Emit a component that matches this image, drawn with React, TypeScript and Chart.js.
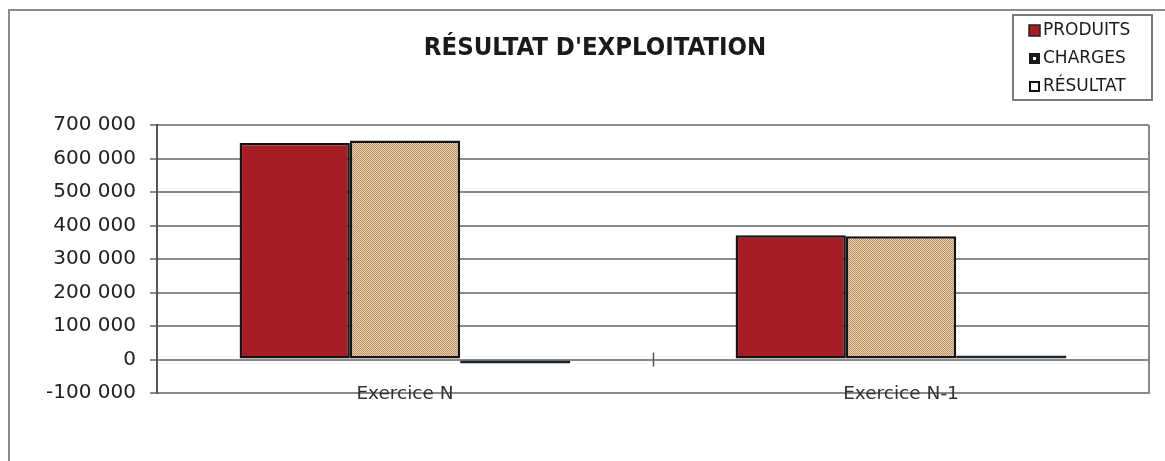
import React, { useEffect, useRef } from 'react';
import { Chart, registerables } from 'chart.js';

Chart.register(...registerables);

const categories = ['Exercice N', 'Exercice N-1'];
const seriesNames = ['PRODUITS', 'CHARGES', 'RÉSULTAT'];
const produits = [646000, 371000];
const charges = [654000, 368000];
const resultat = [-8000, 3000];
const yMin = -100000;
const yMax = 700000;
const yStep = 100000;
const chartTitle = "RÉSULTAT D'EXPLOITATION";

const fmt = (v: number) => String(v).replace(/\B(?=(\d{3})+(?!\d))/g, ' ');

function makePattern(): CanvasPattern | string {
  const c = document.createElement('canvas');
  c.width = 2;
  c.height = 2;
  const g = c.getContext('2d');
  if (!g) return '#d1ae8a';
  g.fillStyle = '#ecd6ba';
  g.fillRect(0, 0, 2, 2);
  g.fillStyle = '#b98b5c';
  g.fillRect(0, 0, 1, 1);
  g.fillRect(1, 1, 1, 1);
  return g.createPattern(c, 'repeat') || '#d1ae8a';
}

const decor = {
  id: 'decor',
  beforeDraw(chart: any) {
    const ctx = chart.ctx;
    ctx.save();
    ctx.fillStyle = '#ffffff';
    ctx.fillRect(0, 0, chart.width, chart.height);
    ctx.strokeStyle = '#8a8a8a';
    ctx.lineWidth = 2;
    ctx.beginPath();
    ctx.moveTo(9, chart.height);
    ctx.lineTo(9, 10);
    ctx.lineTo(chart.width, 10);
    ctx.stroke();
    ctx.restore();
  },
  afterDraw(chart: any) {
    const ctx = chart.ctx;
    const xs = chart.scales.x;
    const ys = chart.scales.y;
    ctx.save();
    // middle category tick crossing the zero line
    const xm = (xs.getPixelForValue(0) + xs.getPixelForValue(1)) / 2;
    const y0 = ys.getPixelForValue(0);
    ctx.strokeStyle = '#555';
    ctx.lineWidth = 1.5;
    ctx.beginPath();
    ctx.moveTo(Math.round(xm) + 0.5, y0 - 7);
    ctx.lineTo(Math.round(xm) + 0.5, y0 + 7);
    ctx.stroke();

    // title
    ctx.fillStyle = '#1a1a1a';
    ctx.font = 'bold 25.5px "DejaVu Sans Condensed", "DejaVu Sans", sans-serif';
    ctx.textAlign = 'center';
    ctx.textBaseline = 'middle';
    ctx.fillText(chartTitle, 595, 48);

    // legend
    const bx = 1013, by = 15, bw = 139, bh = 85;
    ctx.fillStyle = '#fff';
    ctx.fillRect(bx, by, bw, bh);
    ctx.strokeStyle = '#7a7a7a';
    ctx.lineWidth = 2;
    ctx.strokeRect(bx, by, bw, bh);
    ctx.font = '17px "DejaVu Sans", sans-serif';
    ctx.textAlign = 'left';
    ctx.textBaseline = 'middle';
    chart.data.datasets.forEach((ds: any, i: number) => {
      const cy = 31 + i * 28;
      const mx = 1029, my = cy - 6, ms = 11;
      if (i === 0) {
        ctx.fillStyle = ds.backgroundColor;
        ctx.fillRect(mx, my, ms, ms);
        ctx.strokeStyle = '#222';
        ctx.lineWidth = 1.5;
        ctx.strokeRect(mx, my, ms, ms);
      } else if (i === 1) {
        ctx.fillStyle = '#1a1a1a';
        ctx.fillRect(mx, my, ms, ms);
        ctx.fillStyle = '#fff';
        ctx.fillRect(mx + 4, my + 4, 3, 3);
      } else {
        ctx.fillStyle = '#fff';
        ctx.fillRect(mx, my, ms, ms);
        ctx.strokeStyle = '#111';
        ctx.lineWidth = 2;
        ctx.strokeRect(mx + 1, my + 1, ms - 2, ms - 2);
      }
      ctx.fillStyle = '#1a1a1a';
      ctx.fillText(ds.label, 1043, cy);
    });
    ctx.restore();
  },
};

export default function App() {
  const ref = useRef<HTMLCanvasElement | null>(null);
  useEffect(() => {
    if (!ref.current) return;
    const pattern = makePattern();
    const common = {
      barPercentage: 1,
      categoryPercentage: 0.667,
      borderWidth: 2.5,
      borderSkipped: false,
    };
    const chart = new Chart(ref.current, {
      type: 'bar',
      data: {
        labels: categories,
        datasets: [
          { label: seriesNames[0], data: produits, backgroundColor: '#a61d24', borderColor: '#141414', ...common },
          { label: seriesNames[1], data: charges, backgroundColor: pattern as any, borderColor: '#141414', ...common },
          { label: seriesNames[2], data: resultat, backgroundColor: '#1c2230', borderColor: '#1c2230', minBarLength: 4, ...common },
        ],
      },
      options: {
        animation: false,
        responsive: false,
        maintainAspectRatio: false,
        layout: { padding: { left: 0, right: 16, top: 125, bottom: 0 } },
        plugins: {
          legend: { display: false },
          title: { display: false },
          tooltip: { enabled: false },
        },
        scales: {
          x: {
            type: 'category',
            offset: true,
            grid: {
              offset: true,
              drawTicks: false,
              lineWidth: 2,
              color: (c: any) => (c.index === 1 ? 'rgba(0,0,0,0)' : '#8a8a8a'),
            },
            border: { display: true, color: '#8a8a8a', width: 2 },
            ticks: {
              mirror: true,
              font: { family: '"DejaVu Sans", sans-serif', size: 18.5 },
              color: '#333',
              padding: -12,
            },
            afterFit: (s: any) => {
              s.height = 68;
            },
          },
          y: {
            min: yMin,
            max: yMax,
            ticks: {
              stepSize: yStep,
              callback: (v: any) => fmt(Number(v)),
              font: { family: '"DejaVu Sans", sans-serif', size: 20 },
              color: '#222',
              padding: 14,
            },
            grid: { color: '#8a8a8a', lineWidth: 2, tickLength: 7, drawTicks: true },
            border: { display: true, color: '#555', width: 2 },
            afterFit: (s: any) => {
              s.width = 157;
            },
          },
        },
      },
      plugins: [decor],
    });
    return () => chart.destroy();
  }, []);
  return (
    <div style={{ position: 'fixed', left: 0, top: 0, width: 1165, height: 461, background: '#fff' }}>
      <canvas ref={ref} width={1165} height={461} style={{ display: 'block', width: 1165, height: 461 }} />
    </div>
  );
}
